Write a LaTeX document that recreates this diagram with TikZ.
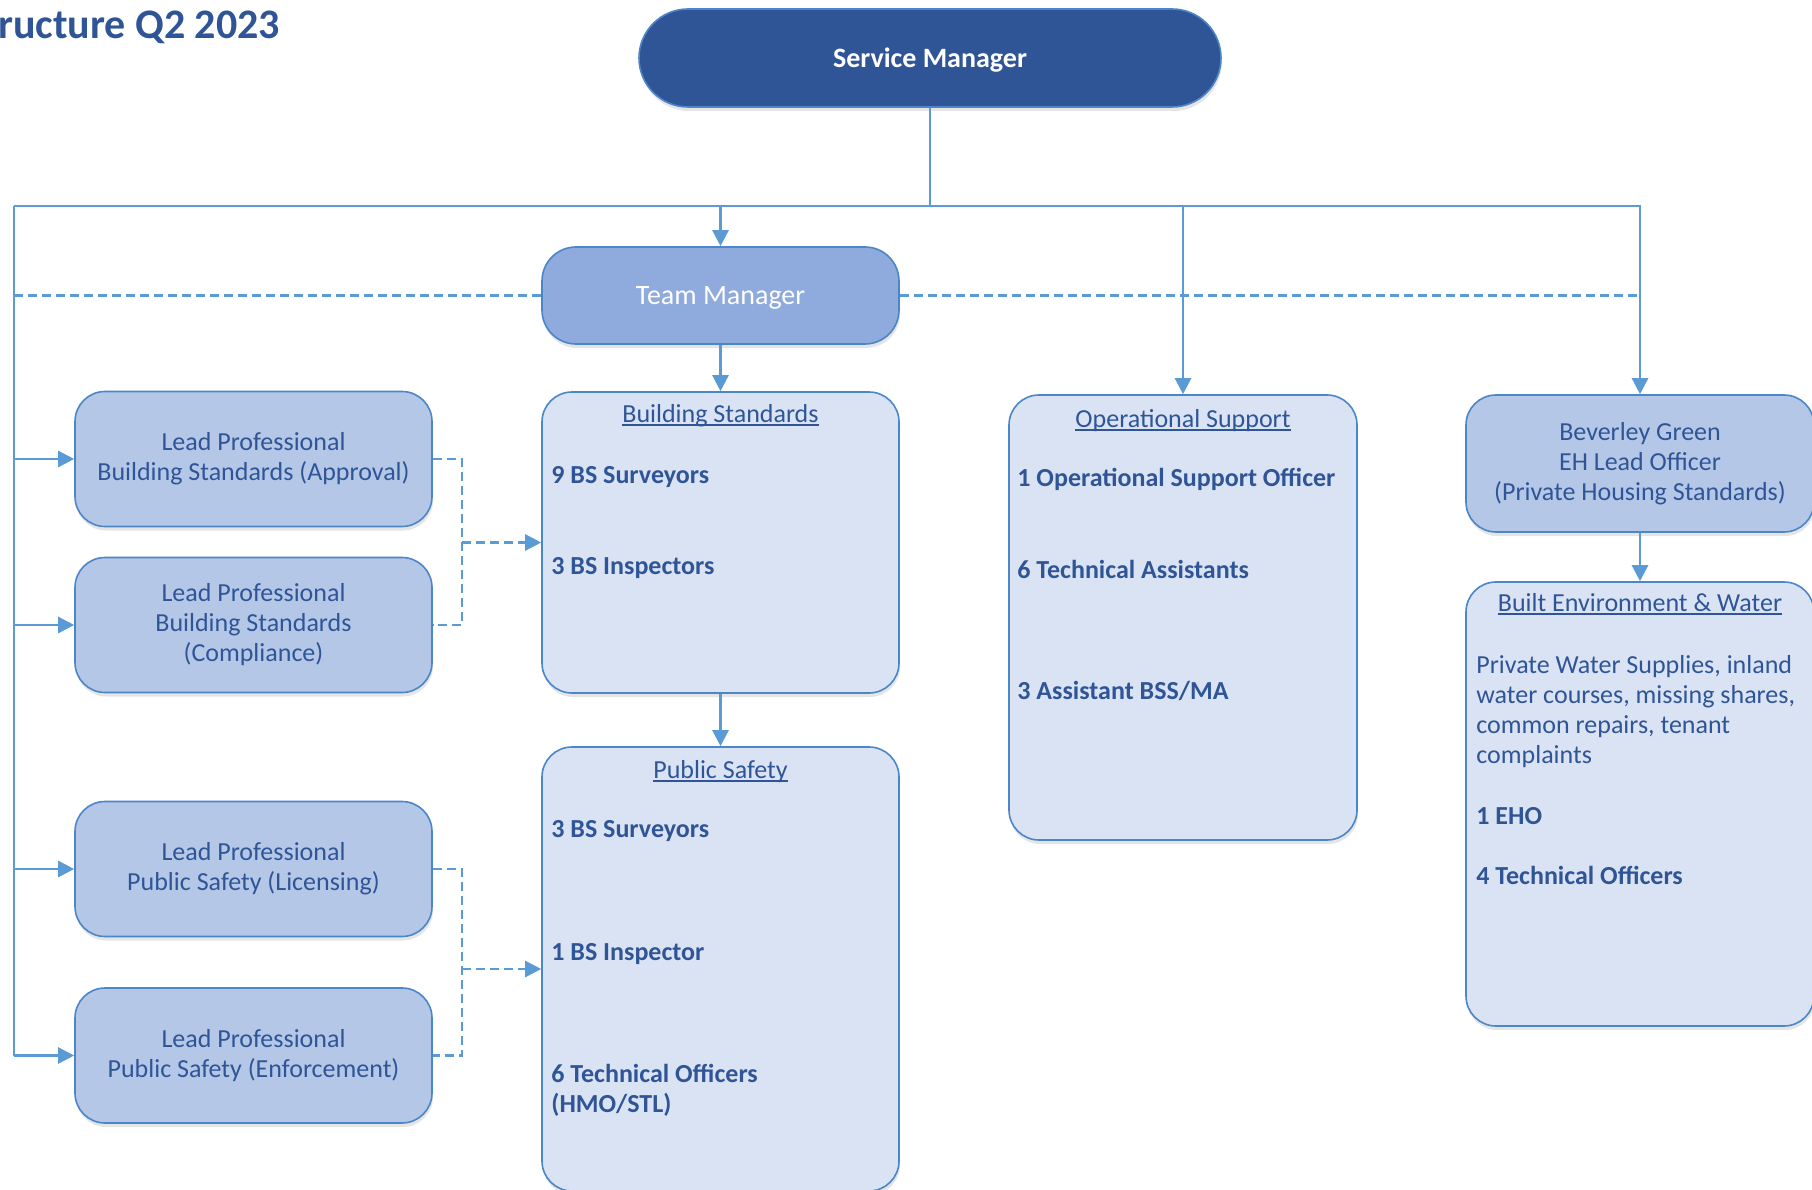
\documentclass[tikz,border=0pt]{standalone}
\usepackage{fontspec}
\setmainfont{Carlito}
\usetikzlibrary{positioning,arrows.meta,shapes.misc,shadows}
\definecolor{navy}{HTML}{2F5597}
\definecolor{tmblue}{HTML}{8FAADC}
\definecolor{leadblue}{HTML}{B4C7E7}
\definecolor{paleblue}{HTML}{DAE3F3}
\definecolor{rim}{HTML}{4A86C8}
\definecolor{wire}{HTML}{5B9BD5}
\def\bodyfont{\fontsize{26}{30}\selectfont}
\newcommand\ulbar[1]{\setbox0\hbox{#1}\rlap{\rule[-3.5pt]{\wd0}{1.4pt}}\box0}

\begin{document}
\begin{tikzpicture}[x=1pt,y=-1pt,on grid,inner sep=0pt,
  shade/.style={drop shadow={shadow xshift=1pt,shadow yshift=-4pt,fill=black,opacity=.10}},
  box/.style={draw=rim,line width=1.6pt,rounded corners=30pt,align=center,text=navy,font=\bodyfont,shade},
  mgr/.style={rounded rectangle,draw=rim,line width=1.6pt,fill=navy,text=white,font=\fontsize{28}{32}\selectfont\bfseries,text depth=0pt,minimum width=582pt,minimum height=98pt,shade},
  tmgr/.style={box,rounded corners=34pt,fill=tmblue,text=white,font=\fontsize{28}{32}\selectfont,text depth=0pt,minimum width=357pt,minimum height=97pt},
  lead/.style={box,fill=leadblue,minimum width=357pt,minimum height=135pt},
  team/.style={box,fill=paleblue},
  head/.style={anchor=base,text=navy,font=\bodyfont},
  item/.style={anchor=base west,align=left,text=navy,font=\bodyfont\bfseries},
  para/.style={anchor=base west,align=left,text=navy,font=\bodyfont},
  link/.style={draw=wire,line width=2.5pt},
  arr/.style={link,-{Triangle[length=16pt,width=16pt]}},
  dlink/.style={link,dash pattern=on 9pt off 5pt},
  darr/.style={dlink,-{Triangle[length=16pt,width=16pt]}}]
\useasboundingbox (0,0) rectangle (1812,1190);

\node[anchor=base west,text=navy,font=\fontsize{42}{48}\selectfont\bfseries] (ttl) at (-2,39) {ructure Q2 2023};

\node[mgr]                                          (sm)  at (930,58)     {Service Manager};
\node[tmgr]                                         (tm)  at (720.5,295.5) {Team Manager};
\node[team,minimum width=357pt,minimum height=301pt] (bs)  [below=247pt of tm] {};
\node[team,minimum width=357pt,minimum height=444pt] (ps)  [below=426.5pt of bs] {};
\node[team,minimum width=348pt,minimum height=445pt] (os)  at (1183,617.5) {};
\node[lead,minimum width=348pt,minimum height=137pt] (bg)  at (1640,463.5) {Beverley Green\\EH Lead Officer\\(Private Housing Standards)};
\node[team,minimum width=348pt,minimum height=444pt] (be)  [below=340.5pt of bg] {};

\node[lead] (lp1) at (253.5,459)    {Lead Professional\\Building Standards (Approval)};
\node[lead] (lp2) [below=166pt of lp1] {Lead Professional\\Building Standards\\(Compliance)};
\node[lead] (lp3) at (253.5,869)    {Lead Professional\\Public Safety (Licensing)};
\node[lead] (lp4) [below=186.5pt of lp3] {Lead Professional\\Public Safety (Enforcement)};

% team contents
\node[head] (bs0) at ([yshift=-31pt]bs.north) {\ulbar{Building Standards}};
\node[item] (bs1) at ([xshift=10pt,yshift=-92pt]bs.north west)  {9 BS Surveyors};
\node[item] (bs2) at ([xshift=10pt,yshift=-183pt]bs.north west) {3 BS Inspectors};

\node[head] (ps0) at ([yshift=-32pt]ps.north) {\ulbar{Public Safety}};
\node[item] (ps1) at ([xshift=10pt,yshift=-91pt]ps.north west)  {3 BS Surveyors};
\node[item] (ps2) at ([xshift=10pt,yshift=-214pt]ps.north west) {1 BS Inspector};
\node[item] (ps3) at ([xshift=10pt,yshift=-366pt]ps.north west) {6 Technical Officers\\(HMO/STL)};

\node[head] (os0) at ([yshift=-33pt]os.north) {\ulbar{Operational Support}};
\node[item] (os1) at ([xshift=9pt,yshift=-92pt]os.north west)  {1 Operational Support Officer};
\node[item] (os2) at ([xshift=9pt,yshift=-184pt]os.north west) {6 Technical Assistants};
\node[item] (os3) at ([xshift=9pt,yshift=-305pt]os.north west) {3 Assistant BSS/MA};

\node[head] (be0) at ([yshift=-30pt]be.north) {\ulbar{Built Environment \& Water}};
\node[para] (be1) at ([xshift=11pt,yshift=-182pt]be.north west)  {Private Water Supplies, inland\\water courses, missing shares,\\common repairs, tenant\\complaints};
\node[item] (be2) at ([xshift=11pt,yshift=-243pt]be.north west) {1 EHO};
\node[item] (be3) at ([xshift=11pt,yshift=-303pt]be.north west) {4 Technical Officers};

% lines
\coordinate (trunk) at (14,206);
\coordinate (jb) at (462,542.5);
\coordinate (jp) at (462,969);
\draw[link] (sm) -- (sm.south |- trunk);
\draw[arr] (trunk) -- (bg.north |- trunk) -- (bg);
\draw[arr] (tm.north |- trunk) -- (tm);
\draw[arr] (os.north |- trunk) -- (os);
\draw[link] (trunk) -- (trunk |- lp4);
\foreach \n in {lp1,lp2,lp3,lp4}
  \draw[arr] (trunk |- \n) -- (\n);
\draw[arr] (tm) -- (bs);
\draw[arr] (bs) -- (ps);
\draw[arr] (bg) -- (be);

\draw[dlink] (trunk |- tm) -- (tm);
\draw[dlink] (tm) -- (bg.north |- tm);
\draw[dlink] (lp1) -| (jb) |- (lp2);
\draw[darr] (jb) -- (bs);
\draw[dlink] (lp3) -| (jp) |- (lp4);
\draw[darr] (jp) -- (ps);
\end{tikzpicture}
\end{document}
